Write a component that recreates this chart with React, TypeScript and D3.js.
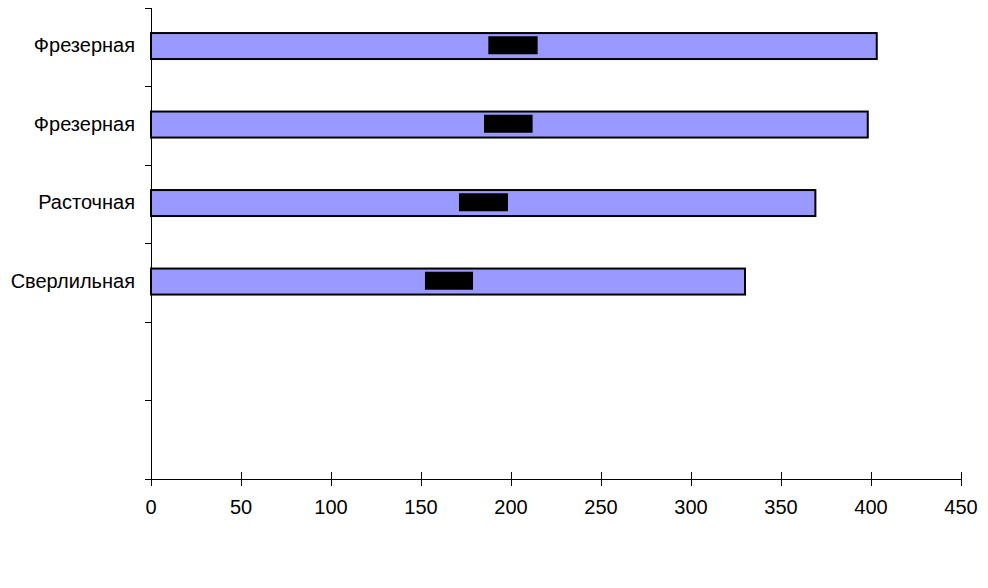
import React from "react";
import * as d3 from "d3";

const categories: string[] = ["Фрезерная", "Фрезерная", "Расточная", "Сверлильная", "", ""];
const totalValues: number[] = [403.2, 398.2, 369.1, 330.0];
const segStart: number[] = [187.4, 185.0, 171.1, 152.2];
const segEnd: number[] = [214.8, 212.0, 198.3, 178.9];
const xTicks: number[] = [0, 50, 100, 150, 200, 250, 300, 350, 400, 450];

const W = 988;
const H = 588;
const left = 151;
const right = 961;
const top = 8;
const bottom = 479;
const barH = 26;
const segH = 18;
const font = "'Liberation Sans', Arial, sans-serif";

export default function App() {
  const x = d3.scaleLinear().domain([0, 450]).range([left, right]);
  const y = d3
    .scaleBand<number>()
    .domain(categories.map((_, i) => i))
    .range([top, bottom])
    .padding(0);
  const bw = y.bandwidth();
  const boundaries = d3.range(categories.length + 1).map((i) => top + i * y.step());

  return (
    <svg
      width={W}
      height={H}
      style={{ position: "absolute", left: 0, top: 0, background: "#fff" }}
      fontFamily={font}
    >
      {/* bars */}
      {totalValues.map((v, i) => {
        const cy = (y(i) as number) + bw / 2 - 1.2;
        return (
          <g key={"b" + i}>
            <rect
              x={x(0)}
              y={cy - barH / 2}
              width={x(v) - x(0)}
              height={barH}
              fill="#9999FF"
              stroke="#000"
              strokeWidth={2}
            />
            <rect
              x={x(segStart[i])}
              y={cy - segH / 2 - 0.8}
              width={x(segEnd[i]) - x(segStart[i])}
              height={segH}
              fill="#000"
            />
          </g>
        );
      })}
      {/* y axis */}
      <line x1={left} x2={left} y1={top} y2={bottom} stroke="#000" strokeWidth={1} shapeRendering="crispEdges" />
      {boundaries.map((b, i) => (
        <line key={"yt" + i} x1={left - 6} x2={left} y1={b} y2={b} stroke="#000" shapeRendering="crispEdges" />
      ))}
      {categories.map((c, i) =>
        c ? (
          <text
            key={"yl" + i}
            x={135}
            y={(y(i) as number) + bw / 2 - 2}
            dy="0.35em"
            textAnchor="end"
            fontSize={20}
            fill="#000"
          >
            {c}
          </text>
        ) : null
      )}
      {/* x axis */}
      <line x1={left - 6} x2={right} y1={bottom} y2={bottom} stroke="#000" shapeRendering="crispEdges" />
      {xTicks.map((t) => (
        <g key={"xt" + t}>
          <line x1={x(t)} x2={x(t)} y1={bottom - 7} y2={bottom + 7} stroke="#000" shapeRendering="crispEdges" />
          <text x={x(t)} y={514} textAnchor="middle" fontSize={20} fill="#000">
            {t}
          </text>
        </g>
      ))}
    </svg>
  );
}
